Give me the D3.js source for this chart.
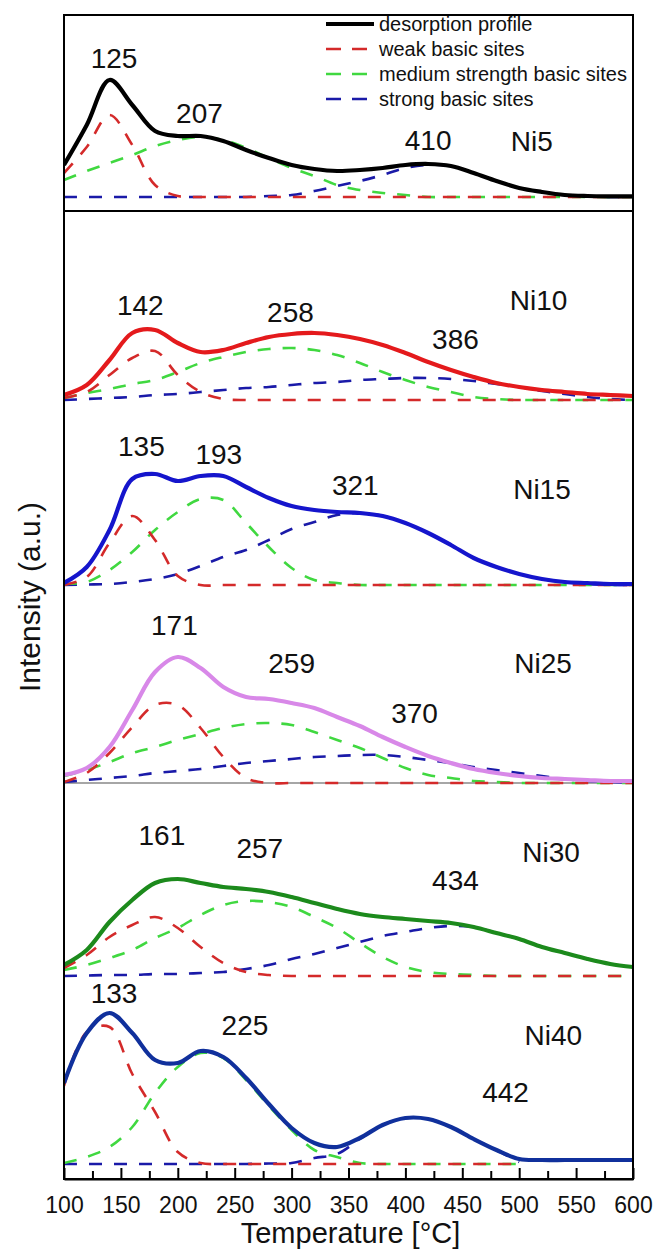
<!DOCTYPE html>
<html>
<head>
<meta charset="utf-8">
<script src="https://cdn.jsdelivr.net/npm/d3@7"></script>
<style>
  html, body { margin: 0; padding: 0; background: #fff; }
  svg { display: block; font-family: "Liberation Sans", Arial, sans-serif; }
</style>
</head>
<body>
<svg id="chart" width="658" height="1254"></svg>
<script>
// ---------------- DATA ----------------
// temperature grid, °C
const temps = [100,120,140,160,180,200,220,240,260,280,300,320,340,360,380,400,420,440,460,480,500,520,540,560,580,600];

const samples = ["Ni5","Ni10","Ni15","Ni25","Ni30","Ni40"];
// vertical offset of each stacked trace (a.u.)
const offsets = [967, 764, 579, 381, 188, 0];

// Ni5
const ni5Profile = [32,72,117,92,66,61,61,56,47,39,32,28,26,27,29,32,33,31,24,16,9,5,2,1,0.7,0.7];
const ni5Weak    = [24,50,82,52,12,1,0,0,0,0,0,0,0,0,0,0,0,0,0,0,0,0,0,0,0,0];
const ni5Medium  = [17,26,34,42,51,57,60,57,49,39,29,21,12,7,4,2,0,0,0,0,0,0,0,0,0,0];
const ni5Strong  = [0,0,0,0,0,0,0,0,0,1,2,6,11,16,22,29,32,31,24,16,9,5,2,1,0,0];
// Ni10
const ni10Profile = [5,15,40,67,70,57,48,50,57,63,66,67,65,61,55,47,38,30,23,17,13,10,8,6,5,4];
const ni10Weak    = [2,8,25,42,49,25,8,1,0,0,0,0,0,0,0,0,0,0,0,0,0,0,0,0,0,0];
const ni10Medium  = [2,7,11,16,20,28,37,43,48,51,52,50,45,37,28,20,13,8,3,1,0,0,0,0,0,0];
const ni10Strong  = [0,1,2,3,5,6,8,10,12,13,15,17,18,20,21,22,22,21,19,16,13,9,6,3,1,0];
// Ni15
const ni15Profile = [2,18,55,106,111,104,109,109,98,87,79,75,73,72,69,62,52,40,27,18,11,6,3,2,1,1];
const ni15Weak    = [0,8,42,69,45,9,0,0,0,0,0,0,0,0,0,0,0,0,0,0,0,0,0,0,0,0];
const ni15Medium  = [1,3,15,33,55,73,86,85,62,38,17,5,2,0,0,0,0,0,0,0,0,0,0,0,0,0];
const ni15Strong  = [0,0.5,1,3,6,11,19,28,35,45,56,63,70,72,69,62,52,40,27,18,11,6,3,1,0,0];
// Ni25
const ni25Profile = [8,15,36,73,111,126,115,96,86,84,80,75,66,57,46,36,27,20,14,10,7,5,4,3,2,2];
const ni25Weak    = [1,10,30,56,78,78,55,26,5,0,0,0,0,0,0,0,0,0,0,0,0,0,0,0,0,0];
const ni25Medium  = [7,13,21,30,36,43,49,55,59,60,58,51,43,35,25,15,8,5,2,1,0,0,0,0,0,0];
const ni25Strong  = [1,3,5,7,10,12,14,17,20,22,24,26,27,28,28,26,23,20,16,13,10,7,4,2,1,0];
// Ni30
const ni30Profile = [11,26,54,76,93,97,93,89,87,84,79,73,67,62,59,57,55,53,49,43,37,29,23,17,12,9];
const ni30Weak    = [8,21,39,51,59,48,29,13,4,1,0,0,0,0,0,0,0,0,0,0,0,0,0,0,0,0];
const ni30Medium  = [6,11,18,26,38,48,61,71,75,74,69,59,48,33,19,9,4,2,1,0,0,0,0,0,0,0];
const ni30Strong  = [0,0.5,1,1,2,2,3,4,7,11,17,22,28,34,40,44,48,50,49,43,37,29,23,17,12,9];
// Ni40 (component fits stop at 500 °C)
const ni40Profile = [81,131,151,131,104,101,113,107,86,60,36,21,17,26,39,46,45,37,25,14,5,4,4,4,4,4];
const ni40Weak    = [78,132,137,90,52,12,1,0,0,0,0,0,0,0,0,0,0,0,0,0,0,null,null,null,null,null];
const ni40Medium  = [1,7,17,37,71,97,111,106,84,58,34,14,7,1,0,0,0,0,0,0,0,null,null,null,null,null];
const ni40Strong  = [0,0,0,0,0,0,0,0,0,0.5,1,6,10,25,39,46,45,37,25,14,2,null,null,null,null,null];

const profiles = [ni5Profile, ni10Profile, ni15Profile, ni25Profile, ni30Profile, ni40Profile];
const weakSites = [ni5Weak, ni10Weak, ni15Weak, ni25Weak, ni30Weak, ni40Weak];
const mediumSites = [ni5Medium, ni10Medium, ni15Medium, ni25Medium, ni30Medium, ni40Medium];
const strongSites = [ni5Strong, ni10Strong, ni15Strong, ni25Strong, ni30Strong, ni40Strong];

// peak temperature labels (text)
const peakTexts = [["125","207","410"],["142","258","386"],["135","193","321"],["171","259","370"],["161","257","434"],["133","225","442"]];

const xTicks = [100,150,200,250,300,350,400,450,500,550,600];
const xMinorTicks = [125,175,225,275,325,375,425,475,525,575];
const legendLabels = ["desorption profile","weak basic sites","medium strength basic sites","strong basic sites"];

// ---------------- LAYOUT / STYLE ----------------
// label anchor positions in data space [temperature, intensity above trace offset]
const peakPos = [
  [[144,129],[219,74],[420,47]],
  [[167,85],[299,78],[444,51]],
  [[168,129],[236,121],[356,90]],
  [[197,148],[300,110],[408,60]],
  [[186,131],[272,118],[444,86]],
  [[144,161],[259,129],[488,62]]
];
const namePos = [[511,46],[517,90],[520,86],[521,110],[528,114],[530,119]];
const profileColors = ["#000000","#e41a1c","#1515cc","#d888e8","#1c8a1c","#10309c"];
const weakColor = "#d42a2a", mediumColor = "#40d840", strongColor = "#1a1aa8";

const mLeft = 64, mRight = 633, mTop = 15, mBottom = 1179;

const svg = d3.select("#chart");
const x = d3.scaleLinear().domain([100, 600]).range([mLeft, mRight]);
const y = d3.scaleLinear().domain([0, 1164]).range([1164, 0]);

svg.append("defs").append("clipPath").attr("id","clip")
  .append("rect").attr("x", mLeft).attr("y", mTop).attr("width", mRight-mLeft).attr("height", mBottom-mTop);

const plot = svg.append("g").attr("clip-path","url(#clip)");

// thin gray zero line of Ni25
plot.append("line")
  .attr("x1", mLeft).attr("x2", mRight)
  .attr("y1", y(offsets[3])).attr("y2", y(offsets[3]))
  .attr("stroke", "#888").attr("stroke-width", 1.3);

function makeLine(off) {
  return d3.line()
    .defined(d => d[1] != null)
    .x(d => x(d[0]))
    .y(d => y(off + d[1]))
    .curve(d3.curveCatmullRom.alpha(0.5));
}

samples.forEach((s, i) => {
  const line = makeLine(offsets[i]);
  const comps = [[weakSites[i], weakColor],[mediumSites[i], mediumColor],[strongSites[i], strongColor]];
  [comps[2], comps[1], comps[0]].forEach(([vals, col]) => {
    plot.append("path")
      .datum(temps.map((t, k) => [t, vals[k]]))
      .attr("d", line)
      .attr("fill", "none")
      .attr("stroke", col)
      .attr("stroke-width", 2.6)
      .attr("stroke-dasharray", "13,12");
  });
  plot.append("path")
    .datum(temps.map((t, k) => [t, profiles[i][k]]))
    .attr("d", line)
    .attr("fill", "none")
    .attr("stroke", profileColors[i])
    .attr("stroke-width", 4.2)
    .attr("stroke-linejoin", "round");

  peakTexts[i].forEach((txt, k) => {
    svg.append("text")
      .attr("x", x(peakPos[i][k][0]))
      .attr("y", y(offsets[i] + peakPos[i][k][1]))
      .attr("text-anchor", "middle")
      .attr("font-size", 28)
      .attr("fill", "#111")
      .text(txt);
  });
  svg.append("text")
    .attr("x", x(namePos[i][0]))
    .attr("y", y(offsets[i] + namePos[i][1]))
    .attr("text-anchor", "middle")
    .attr("font-size", 28)
    .attr("fill", "#111")
    .text(s);
});

// frame and divider
svg.append("rect")
  .attr("x", mLeft).attr("y", mTop).attr("width", mRight-mLeft).attr("height", mBottom-mTop)
  .attr("fill", "none").attr("stroke", "#000").attr("stroke-width", 2);
svg.append("line")
  .attr("x1", mLeft).attr("x2", mRight).attr("y1", 211).attr("y2", 211)
  .attr("stroke", "#000").attr("stroke-width", 2);

// x axis (ticks pointing inward)
const axisG = svg.append("g").attr("transform", `translate(0,${mBottom})`)
  .call(d3.axisBottom(x).tickValues(xTicks).tickSizeInner(-11).tickSizeOuter(0).tickPadding(18).tickFormat(d3.format("d")));
axisG.select(".domain").attr("stroke-width", 2);
axisG.selectAll(".tick line").attr("stroke-width", 2);
axisG.selectAll(".tick text").attr("font-size", 23).attr("fill", "#111")
  .attr("font-family", "'Liberation Sans', Arial, sans-serif");
const minorG = svg.append("g").attr("transform", `translate(0,${mBottom})`)
  .call(d3.axisBottom(x).tickValues(xMinorTicks).tickSizeInner(-8).tickSizeOuter(0).tickFormat(""));
minorG.select(".domain").remove();
minorG.selectAll(".tick line").attr("stroke-width", 2);

// axis titles
svg.append("text")
  .attr("x", (mLeft + mRight) / 2 + 2).attr("y", 1243)
  .attr("text-anchor", "middle").attr("font-size", 29).attr("fill", "#111")
  .text("Temperature [°C]");
svg.append("text")
  .attr("transform", "translate(40,597) rotate(-90)")
  .attr("text-anchor", "middle").attr("font-size", 30).attr("fill", "#111")
  .text("Intensity (a.u.)");

// legend
const legendStyles = [
  {color: "#000", width: 4.2, dash: null},
  {color: weakColor, width: 2.6, dash: "15,11"},
  {color: mediumColor, width: 2.6, dash: "15,11"},
  {color: strongColor, width: 2.6, dash: "15,11"}
];
const lg = svg.append("g");
legendLabels.forEach((lab, i) => {
  const cy = 24 + i * 25;
  const ln = lg.append("line")
    .attr("x1", 326).attr("x2", i === 0 ? 374 : 369)
    .attr("y1", cy).attr("y2", cy)
    .attr("stroke", legendStyles[i].color)
    .attr("stroke-width", legendStyles[i].width);
  if (legendStyles[i].dash) ln.attr("stroke-dasharray", legendStyles[i].dash);
  lg.append("text")
    .attr("x", 379).attr("y", cy + 7)
    .attr("font-size", 20).attr("fill", "#111")
    .text(lab);
});
</script>
</body>
</html>
